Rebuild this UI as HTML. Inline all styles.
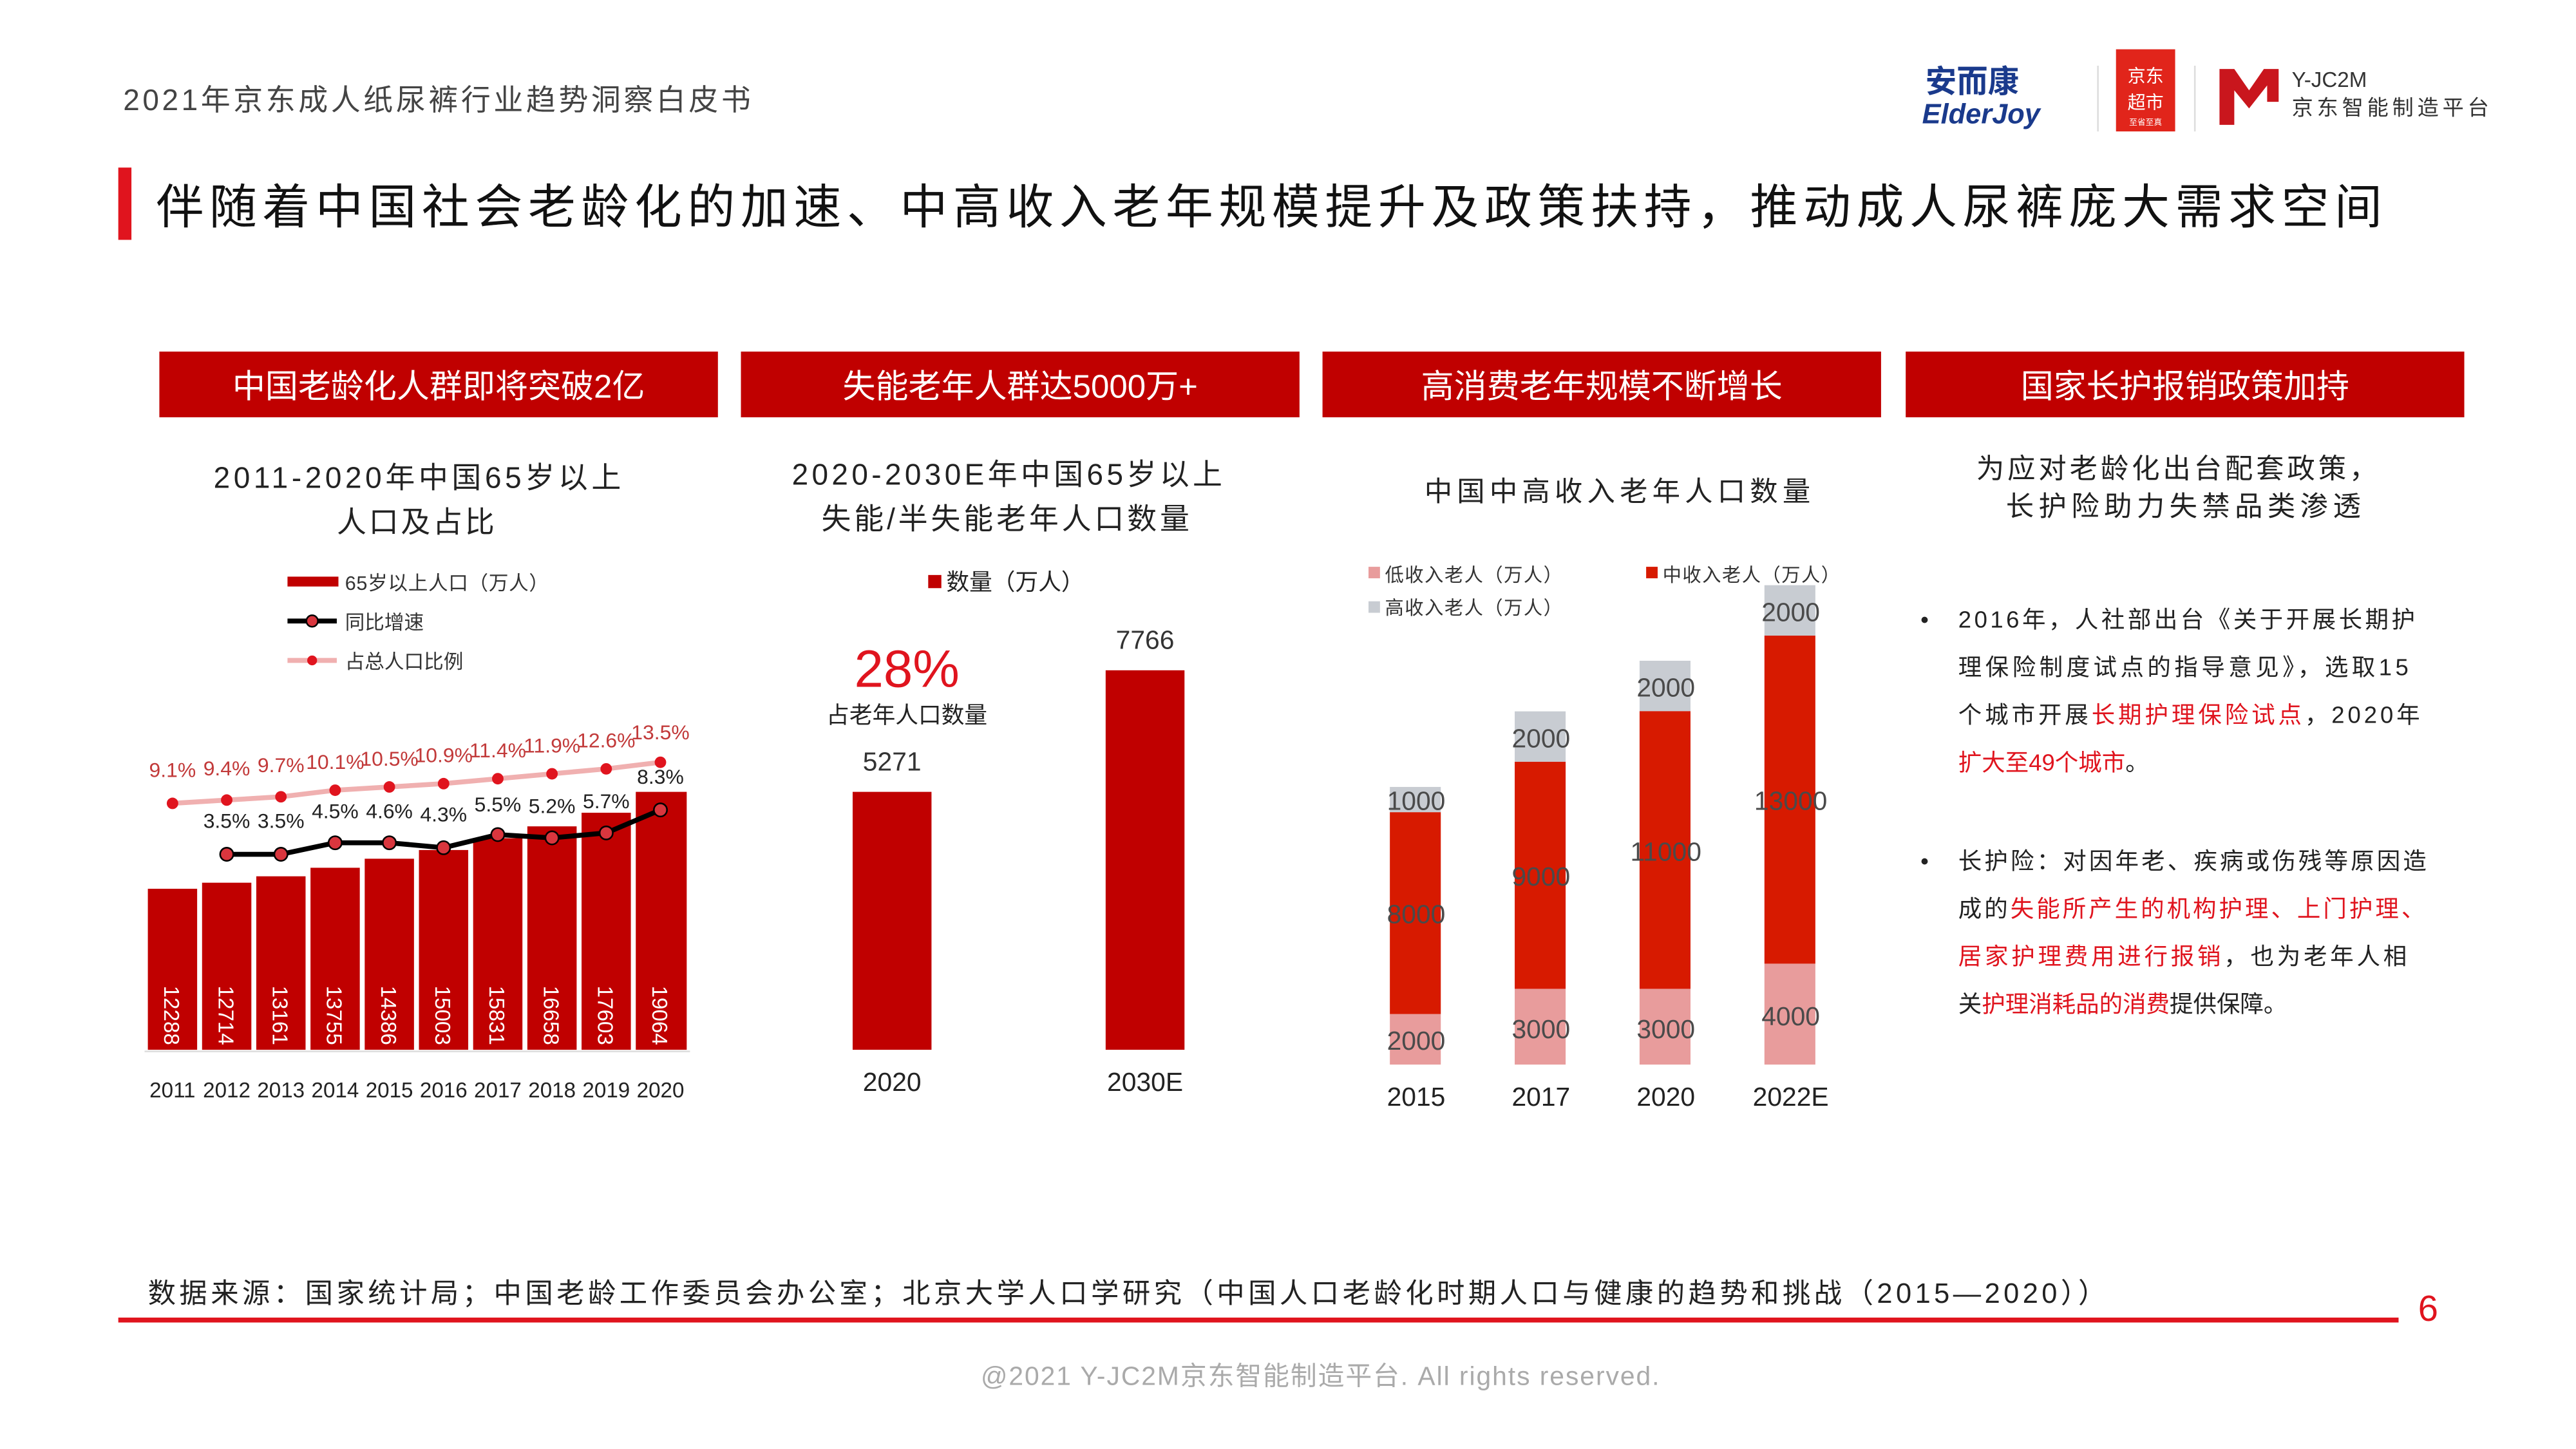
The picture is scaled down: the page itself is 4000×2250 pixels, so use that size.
<!DOCTYPE html>
<html><head><meta charset="utf-8"><style>
html,body{margin:0;padding:0;background:#fff;}
svg{display:block;}
text{font-family:"Liberation Sans","Noto Sans CJK SC",sans-serif;}
</style></head><body>
<svg width="4000" height="2250" viewBox="0 0 1568 882" xmlns="http://www.w3.org/2000/svg">
<rect width="1568" height="882" fill="#fff"/>
<!-- header -->
<text x="75" y="67" font-size="18" fill="#444" textLength="382">2021年京东成人纸尿裤行业趋势洞察白皮书</text>
<text x="1172" y="56" font-size="19" font-weight="bold" fill="#1a3a8c">安而康</text>
<text x="1170" y="75" font-size="17" font-weight="bold" font-style="italic" fill="#1a3a8c">ElderJoy</text>
<line x1="1277" y1="40" x2="1277" y2="80" stroke="#ddd"/>
<rect x="1288" y="30" width="36" height="50" fill="#e1251b"/>
<text x="1306" y="50" font-size="11" fill="#fff" text-anchor="middle">京东</text>
<text x="1306" y="66" font-size="11" fill="#fff" text-anchor="middle">超市</text>
<text x="1306" y="76" font-size="5" fill="#fff" text-anchor="middle">至省至真</text>
<line x1="1336" y1="40" x2="1336" y2="80" stroke="#ddd"/>
<path d="M1351 42 L1360 42 L1369 55 L1378 42 L1387 42 L1387 62 L1380 62 L1380 52 L1369 66 L1360 55 L1360 76 L1351 76 Z" fill="#c9161d"/>
<text x="1395" y="53" font-size="13" fill="#333">Y-JC2M</text>
<text x="1395" y="70" font-size="13" fill="#333" textLength="120">京东智能制造平台</text>
<!-- title -->
<rect x="72" y="102" width="8" height="44" fill="#e0141e"/>
<text x="95" y="136" font-size="29" fill="#111" textLength="1355">伴随着中国社会老龄化的加速、中高收入老年规模提升及政策扶持，推动成人尿裤庞大需求空间</text>
<!-- section headers -->
<g font-size="20" fill="#fff" text-anchor="middle">
<rect x="97" y="214" width="340" height="40" fill="#c00000"/><text x="267" y="242">中国老龄化人群即将突破2亿</text>
<rect x="451" y="214" width="340" height="40" fill="#c00000"/><text x="621" y="242">失能老年人群达5000万+</text>
<rect x="805" y="214" width="340" height="40" fill="#c00000"/><text x="975" y="242">高消费老年规模不断增长</text>
<rect x="1160" y="214" width="340" height="40" fill="#c00000"/><text x="1330" y="242">国家长护报销政策加持</text>
</g>
<!-- chart 1 -->
<g font-size="18" fill="#222">
<text x="130" y="297" textLength="248">2011-2020年中国65岁以上</text>
<text x="205" y="324" textLength="96">人口及占比</text>
</g>
<rect x="175" y="351" width="31" height="6" fill="#c00000"/>
<text x="210" y="359" font-size="12" fill="#333" textLength="124">65岁以上人口（万人）</text>
<line x1="175" y1="378" x2="205" y2="378" stroke="#000" stroke-width="3"/><circle cx="190" cy="378" r="3.5" fill="#d9363e" stroke="#000"/>
<text x="210" y="383" font-size="12" fill="#333">同比增速</text>
<line x1="175" y1="402" x2="205" y2="402" stroke="#f0b0b0" stroke-width="3"/><circle cx="190" cy="402" r="3" fill="#e0141e"/>
<text x="210" y="407" font-size="12" fill="#333">占总人口比例</text>
<g fill="#c00000">
<rect x="90" y="541" width="30" height="98"/>
<rect x="123" y="537.3" width="30" height="101.7"/>
<rect x="156" y="533.4" width="30" height="105.6"/>
<rect x="189" y="528.2" width="30" height="110.8"/>
<rect x="222" y="522.7" width="30" height="116.3"/>
<rect x="255" y="517.4" width="30" height="121.6"/>
<rect x="288" y="510.2" width="30" height="128.8"/>
<rect x="321" y="503" width="30" height="136"/>
<rect x="354" y="494.7" width="30" height="144.3"/>
<rect x="387" y="482" width="31" height="157"/>
</g>
<line x1="88" y1="640" x2="420" y2="640" stroke="#ddd"/>
<g font-size="13" fill="#fff">
<text transform="translate(100,600) rotate(90)">12288</text>
<text transform="translate(133,600) rotate(90)">12714</text>
<text transform="translate(166,600) rotate(90)">13161</text>
<text transform="translate(199,600) rotate(90)">13755</text>
<text transform="translate(232,600) rotate(90)">14386</text>
<text transform="translate(265,600) rotate(90)">15003</text>
<text transform="translate(298,600) rotate(90)">15831</text>
<text transform="translate(331,600) rotate(90)">16658</text>
<text transform="translate(364,600) rotate(90)">17603</text>
<text transform="translate(397,600) rotate(90)">19064</text>
</g>
<g font-size="13" fill="#222" text-anchor="middle">
<text x="105" y="668">2011</text><text x="138" y="668">2012</text><text x="171" y="668">2013</text><text x="204" y="668">2014</text><text x="237" y="668">2015</text><text x="270" y="668">2016</text><text x="303" y="668">2017</text><text x="336" y="668">2018</text><text x="369" y="668">2019</text><text x="402" y="668">2020</text>
</g>
<polyline points="105,489 138,487 171,485 204,481 237,479 270,477 303,474 336,471 369,468 402,464" fill="none" stroke="#f0b0b0" stroke-width="3"/>
<g fill="#e0141e"><circle cx="105" cy="489" r="3.5"/><circle cx="138" cy="487" r="3.5"/><circle cx="171" cy="485" r="3.5"/><circle cx="204" cy="481" r="3.5"/><circle cx="237" cy="479" r="3.5"/><circle cx="270" cy="477" r="3.5"/><circle cx="303" cy="474" r="3.5"/><circle cx="336" cy="471" r="3.5"/><circle cx="369" cy="468" r="3.5"/><circle cx="402" cy="464" r="3.5"/></g>
<g font-size="12.5" fill="#c23a3a" text-anchor="middle">
<text x="105" y="473">9.1%</text><text x="138" y="472">9.4%</text><text x="171" y="470">9.7%</text><text x="204" y="468">10.1%</text><text x="237" y="466">10.5%</text><text x="270" y="464">10.9%</text><text x="303" y="461">11.4%</text><text x="336" y="458">11.9%</text><text x="369" y="455">12.6%</text><text x="402" y="450">13.5%</text>
</g>
<polyline points="138,520 171,520 204,513 237,513 270,516 303,508 336,510 369,507 402,493" fill="none" stroke="#000" stroke-width="3"/>
<g fill="#d9363e" stroke="#000" stroke-width="1"><circle cx="138" cy="520" r="4"/><circle cx="171" cy="520" r="4"/><circle cx="204" cy="513" r="4"/><circle cx="237" cy="513" r="4"/><circle cx="270" cy="516" r="4"/><circle cx="303" cy="508" r="4"/><circle cx="336" cy="510" r="4"/><circle cx="369" cy="507" r="4"/><circle cx="402" cy="493" r="4"/></g>
<g font-size="12.5" fill="#222" text-anchor="middle">
<text x="138" y="504">3.5%</text><text x="171" y="504">3.5%</text><text x="204" y="498">4.5%</text><text x="237" y="498">4.6%</text><text x="270" y="500">4.3%</text><text x="303" y="494">5.5%</text><text x="336" y="495">5.2%</text><text x="369" y="492">5.7%</text><text x="402" y="477">8.3%</text>
</g>
<!-- chart 2 -->
<g font-size="18" fill="#222">
<text x="482" y="295" textLength="262">2020-2030E年中国65岁以上</text>
<text x="500" y="322" textLength="224">失能/半失能老年人口数量</text>
</g>
<rect x="565" y="350" width="8" height="8" fill="#c00000"/>
<text x="576" y="359" font-size="14" fill="#222">数量（万人）</text>
<text x="552" y="418" font-size="32" fill="#e0141e" text-anchor="middle">28%</text>
<text x="552" y="440" font-size="14" fill="#222" text-anchor="middle">占老年人口数量</text>
<text x="543" y="469" font-size="16" fill="#333" text-anchor="middle">5271</text>
<text x="697" y="395" font-size="16" fill="#333" text-anchor="middle">7766</text>
<rect x="519" y="482" width="48" height="157" fill="#c00000"/>
<rect x="673" y="408" width="48" height="231" fill="#c00000"/>
<text x="543" y="664" font-size="16" fill="#222" text-anchor="middle">2020</text>
<text x="697" y="664" font-size="16" fill="#222" text-anchor="middle">2030E</text>
<!-- chart 3 -->
<text x="867" y="305" font-size="17" fill="#222" textLength="235">中国中高收入老年人口数量</text>
<rect x="833" y="345" width="7" height="7" fill="#e89c9c"/><text x="843" y="354" font-size="11.5" fill="#333" textLength="108">低收入老人（万人）</text>
<rect x="1002" y="345" width="7" height="7" fill="#d71a00"/><text x="1012" y="354" font-size="11.5" fill="#333" textLength="108">中收入老人（万人）</text>
<rect x="833" y="366" width="7" height="7" fill="#c8ccd2"/><text x="843" y="374" font-size="11.5" fill="#333" textLength="108">高收入老人（万人）</text>
<g>
<rect x="846" y="479" width="31" height="15.4" fill="#c8ccd2"/><rect x="846" y="494.4" width="31" height="122.9" fill="#d71a00"/><rect x="846" y="617.3" width="31" height="30.7" fill="#e89c9c"/>
<rect x="922" y="433" width="31" height="30.7" fill="#c8ccd2"/><rect x="922" y="463.7" width="31" height="138.2" fill="#d71a00"/><rect x="922" y="601.9" width="31" height="46.1" fill="#e89c9c"/>
<rect x="998" y="402.2" width="31" height="30.7" fill="#c8ccd2"/><rect x="998" y="432.9" width="31" height="169" fill="#d71a00"/><rect x="998" y="601.9" width="31" height="46.1" fill="#e89c9c"/>
<rect x="1074" y="356.2" width="31" height="30.7" fill="#c8ccd2"/><rect x="1074" y="386.9" width="31" height="199.7" fill="#d71a00"/><rect x="1074" y="586.6" width="31" height="61.4" fill="#e89c9c"/>
</g>
<g font-size="16" fill="#4a4a4a" text-anchor="middle">
<text x="862" y="493">1000</text><text x="862" y="562">8000</text><text x="862" y="639">2000</text>
<text x="938" y="455">2000</text><text x="938" y="539">9000</text><text x="938" y="632">3000</text>
<text x="1014" y="424">2000</text><text x="1014" y="524">11000</text><text x="1014" y="632">3000</text>
<text x="1090" y="378">2000</text><text x="1090" y="493">13000</text><text x="1090" y="624">4000</text>
</g>
<g font-size="16" fill="#222" text-anchor="middle">
<text x="862" y="673">2015</text><text x="938" y="673">2017</text><text x="1014" y="673">2020</text><text x="1090" y="673">2022E</text>
</g>
<!-- right text -->
<g font-size="17" fill="#222">
<text x="1203" y="291" textLength="244">为应对老龄化出台配套政策，</text>
<text x="1221" y="314" textLength="216">长护险助力失禁品类渗透</text>
</g>
<g font-size="14.3" fill="#222">
<text x="1169" y="382">•</text>
<text x="1192" y="382" textLength="278">2016年，人社部出台《关于开展长期护</text>
<text x="1192" y="411" textLength="274">理保险制度试点的指导意见》，选取15</text>
<text x="1192" y="440" textLength="281">个城市开展<tspan fill="#e0141e">长期护理保险试点</tspan>，2020年</text>
<text x="1192" y="469"><tspan fill="#e0141e">扩大至49个城市</tspan>。</text>
<text x="1169" y="529">•</text>
<text x="1192" y="529" textLength="285">长护险：对因年老、疾病或伤残等原因造</text>
<text x="1192" y="558" textLength="284">成的<tspan fill="#e0141e">失能所产生的机构护理、上门护理、</tspan></text>
<text x="1192" y="587" textLength="273"><tspan fill="#e0141e">居家护理费用进行报销</tspan>，也为老年人相</text>
<text x="1192" y="616">关<tspan fill="#e0141e">护理消耗品的消费</tspan>提供保障。</text>
</g>
<!-- footer -->
<text x="90" y="793" font-size="17" fill="#222" textLength="1192">数据来源：国家统计局；中国老龄工作委员会办公室；北京大学人口学研究（中国人口老龄化时期人口与健康的趋势和挑战（2015—2020））</text>
<rect x="72" y="802" width="1388" height="3" fill="#e0141e"/>
<text x="1478" y="804" font-size="22" fill="#e0141e" text-anchor="middle">6</text>
<text x="597" y="843" font-size="16" fill="#aaa" textLength="413">@2021 Y-JC2M京东智能制造平台. All rights reserved.</text>
</svg>
</body></html>
